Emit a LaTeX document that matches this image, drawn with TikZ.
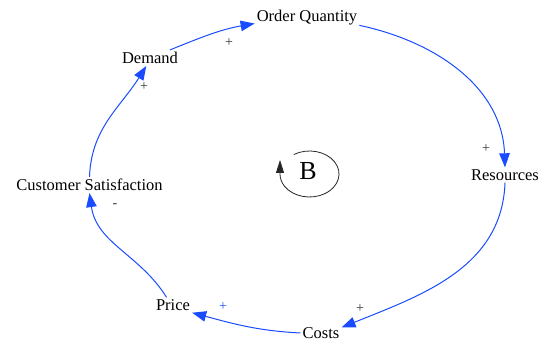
\documentclass[tikz,border=0pt]{standalone}
\usepackage{fontspec}
\setmainfont{Liberation Serif}
\newfontfamily\cldfont{Liberation Serif}
\usetikzlibrary{arrows.meta}
\definecolor{linkblue}{RGB}{25,75,255}

\begin{document}
\begin{tikzpicture}[x=1pt,y=1pt,>=Latex,
  var/.style={inner sep=2pt,font=\cldfont\fontsize{16.5}{18}\selectfont},
  link/.style={draw=linkblue,line width=1pt,-{Triangle[length=14pt,width=10.5pt]}},
  pol/.style={inner sep=1pt,font=\cldfont\fontsize{14}{15}\selectfont,text=black!80}]
  \useasboundingbox (0,0) rectangle (543,347);
  \node[var] (oq) at (307,329) {Order Quantity};
  \node[var] (dem) at (150,289) {Demand};
  \node[var] (cs) at (89.5,162) {Customer Satisfaction};
  \node[var] (price) at (173,42) {Price};
  \node[var] (costs) at (321,14) {Costs};
  \node[var] (res) at (505,172) {Resources};
  \draw[link] (dem.22) to[out=22,in=190] (oq.186);
  \draw[link] (oq.-8) to[out=-12,in=92] (res.north);
  \draw[link] (res.south) to[out=-92,in=22] (costs.15);
  \draw[link] (costs.west) to[out=177,in=-15] (price.south east);
  \draw[link] (price.130) to[out=122,in=-82] (cs.south);
  \draw[link] (cs.north) to[out=88,in=-122] (dem.245);
  \node[pol] (p1) at (229,304) {+};
  \node[pol] (p2) at (486,198) {+};
  \node[pol] (p3) at (360,38) {+};
  \node[pol,text=linkblue] (p4) at (223,40) {+};
  \node[pol] (p5) at (115,141) {-};
  \node[pol] (p6) at (144,260) {+};
  % balancing loop
  \coordinate (loopc) at (309.5,173);
  \node[font=\cldfont\fontsize{26}{28}\selectfont] (loopB) at (308,176) {B};
  \draw[black!85,line width=0.8pt,-{Triangle[length=13pt,width=8pt]}]
    (loopc) ++(122:29.5 and 23) arc[start angle=122,end angle=-180,x radius=29.5,y radius=23] -- ++(0,14);
\end{tikzpicture}
\end{document}
